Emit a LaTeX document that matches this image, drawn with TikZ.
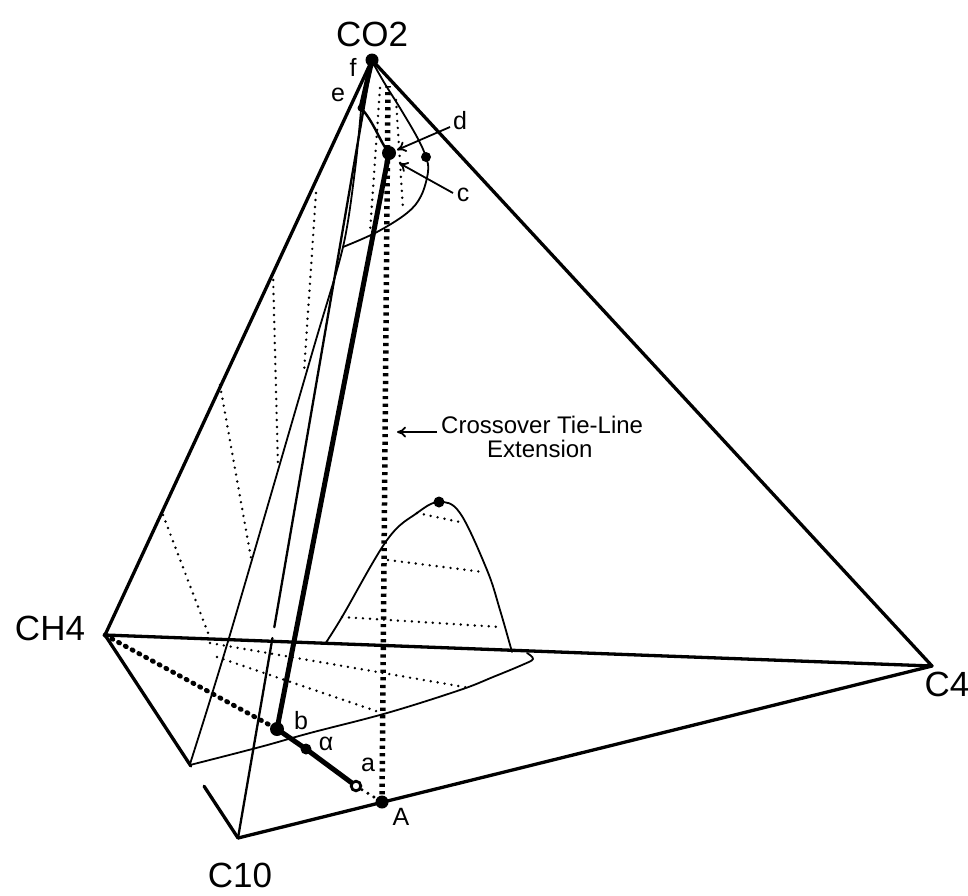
\documentclass[tikz,border=0pt]{standalone}
\usepackage{fontspec}
\setmainfont{Liberation Sans}
\usetikzlibrary{arrows.meta,calc}
\begin{document}
\begin{tikzpicture}[x=1pt,y=-1pt,
  every node/.style={inner sep=0pt},
  edgeline/.style={line width=3.3pt, line cap=round, line join=round},
  medgeline/.style={line width=2.3pt, line cap=round},
  binoline/.style={line width=1.8pt, line cap=round, line join=round},
  tiedots/.style={line width=2.7pt, line cap=round, dash pattern=on 0pt off 7pt},
  bigdots/.style={line width=4.8pt, line cap=round, dash pattern=on 1.2pt off 6.5pt},
  xdots/.style={line width=5.5pt, dash pattern=on 3.2pt off 4.4pt},
  heavyline/.style={line width=5pt, line cap=round, line join=round},
  vlab/.style={font=\fontsize{35}{40}\selectfont},
  plab/.style={font=\fontsize{25}{28}\selectfont},
  tlab/.style={font=\fontsize{24}{26}\selectfont},
  arrline/.style={line width=1.8pt, -{To[length=9pt,width=11pt]}}
]
\useasboundingbox (0,0) rectangle (968,895);

% vertices and points
\coordinate (CO2) at (372,60);
\coordinate (CH4) at (105,635);
\coordinate (C4) at (932,666);
\coordinate (C10) at (238,838);
\coordinate (e) at (361,108);
\coordinate (d) at (389,153);
\coordinate (b) at (277,729);
\coordinate (al) at (306,749);
\coordinate (a) at (356,786);
\coordinate (A) at (382,802);
\coordinate (X) at (388,86);
\coordinate (P1) at (426,157);
\coordinate (P2) at (439,502);

% thin dotted tie lines
\draw[tiedots] (316,193) -- (304,372);
\draw[tiedots] (273,273) -- (278,467);
\draw[tiedots] (220,385) -- (251,558);
\draw[tiedots] (163,515) -- (210,638);
\draw[tiedots] (380,88) -- (370,232);
\draw[tiedots] (396,100) -- (403,209);
\draw[tiedots] (417,513) -- (460,522);
\draw[tiedots] (388,560) -- (483,572);
\draw[tiedots] (342,617) -- (500,627);
\draw[tiedots] (210,643) -- (470,688);
\draw[tiedots] (217,657) -- (382,713);

% tetrahedron edges
\draw[edgeline] (CO2) -- (CH4);
\draw[edgeline] (CO2) -- (C4);
\draw[edgeline] (CH4) -- (C4);
\draw[edgeline] (C10) -- (C4);
\draw[edgeline] (CH4) -- ($(CH4)!0.645!(C10)$);
\draw[edgeline] ($(CH4)!0.745!(C10)$) -- (C10);
\draw[medgeline] (CO2) -- ($(CO2)!0.729!(C10)$);
\draw[medgeline] ($(CO2)!0.743!(C10)$) -- (C10);

% binodal curves
\draw[binoline] plot[smooth, tension=0.5] coordinates {(190,764) (229,638) (313,350) (343,247) (355,170) (361,110)};
\draw[binoline] plot[smooth, tension=0.6] coordinates {(190,765) (260,747) (310,733) (387,713) (460,690) (493,677) (522,665) (533,659) (527,653)};
\draw[binoline] plot[smooth, tension=0.6] coordinates {(325,644) (342,617) (387,540) (417,513) (439,502) (460,513) (487,570) (500,610) (512,652)};
\draw[binoline] plot[smooth, tension=0.6] coordinates {(373,63) (385,84) (400,108) (417,137) (426,157) (428,172) (421,196) (407,213) (377,232) (343,247)};

% crossover extension and dotted links
\draw[xdots] (A) -- (X);
\draw[bigdots] (CH4) -- (b);
\draw[tiedots, line width=3.4pt] (a) -- (A);

% heavy path
\draw[heavyline] (CO2) -- (e);
\draw[line width=2.4pt] (e) .. controls (374,122) and (380,142) .. (d);
\draw[heavyline] (d) -- (b) -- (al) -- (a);

% points
\fill (CO2) circle (6.5);
\fill (d) circle (7);
\fill (b) circle (7);
\fill (al) circle (5.5);
\draw[line width=2.8pt, fill=white] (a) circle (4.8);
\fill (A) circle (6.5);
\fill (P1) circle (5);
\fill (P2) circle (5.5);
\fill (e) circle (3.5);

% labels
\node[vlab] (lCO2) at (372,34) {CO2};
\node[vlab] (lCH4) at (50,628) {CH4};
\node[vlab] (lC4) at (947,684) {C4};
\node[vlab] (lC10) at (240,875) {C10};
\node[plab] (lf) at (353,67) {f};
\node[plab] (le) at (338,95) {e};
\node[plab] (ld) at (460,121) {d};
\node[plab] (lc) at (463,195) {c};
\node[plab] (lb) at (301,721) {b};
\node[plab] (lal) at (326,744) {α};
\node[plab] (la) at (368,765) {a};
\node[plab] (lA) at (401,817) {A};
\node[tlab, anchor=west] (lx1) at (441,425) {Crossover Tie-Line};
\node[tlab, anchor=west] (lx2) at (487,449) {Extension};

% arrows
\coordinate (ds) at (450,127);
\coordinate (dt) at (397,150);
\coordinate (cs) at (453,193);
\coordinate (ct) at (399,163);
\coordinate (xs) at (437,432);
\coordinate (xt) at (397,432);
\draw[arrline] (ds) -- (dt);
\draw[arrline] (cs) -- (ct);
\draw[arrline] (xs) -- (xt);
\end{tikzpicture}
\end{document}
